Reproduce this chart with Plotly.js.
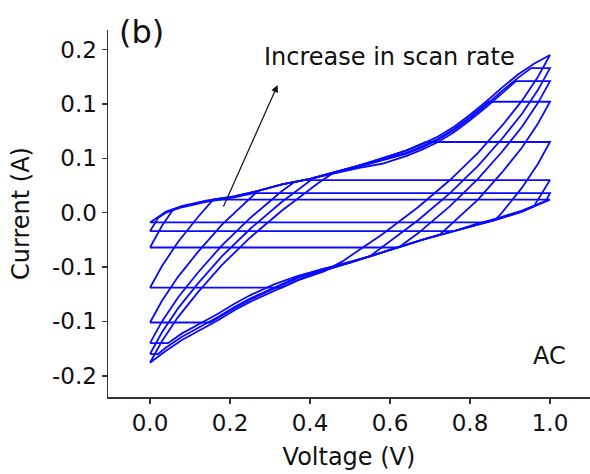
<!DOCTYPE html>
<html>
<head>
<meta charset="utf-8">
<script src="https://cdn.plot.ly/plotly-3.0.1.min.js"></script>
<style>
  html, body { margin: 0; padding: 0; background: #ffffff; }
  #chart { width: 590px; height: 474px; }
</style>
</head>
<body>
<div id="chart"></div>
<script>
// Cyclic voltammograms of the AC electrode: one closed loop per scan rate,
// from the slowest (loop 1) to the fastest (loop 8).
const v1 = [0, 0.04, 0.08, 0.14, 0.16, 1.0, 0.93, 0.87, 0.84, 0];
const i1 = [-0.009, 0.001, 0.006, 0.011, 0.012, 0.012, 0.001, -0.006, -0.009, -0.009];

const v2 = [0, 0.02, 0.04, 0.08, 0.14, 0.21, 0.26, 1.0, 0.99, 0.93, 0.87, 0.81, 0.76, 0];
const i2 = [-0.017, -0.005, 0.000, 0.005, 0.010, 0.014, 0.018, 0.018, 0.011, 0.002, -0.005, -0.011, -0.017, -0.017];

const v3 = [0, 0.03, 0.058, 0.08, 0.14, 0.21, 0.27, 0.33, 0.385, 1.0, 0.96, 0.93, 0.87, 0.81, 0.75, 0.68, 0.62, 0];
const i3 = [-0.032, -0.012, 0.003, 0.006, 0.011, 0.015, 0.020, 0.026, 0.030, 0.030, 0.006, 0.001, -0.006, -0.012, -0.018, -0.025, -0.032, -0.032];

const v4 = [0, 0.03, 0.07, 0.12, 0.158, 0.21, 0.27, 0.33, 0.40, 0.46, 0.52, 0.58, 0.64, 0.69, 1.0,
            0.97, 0.93, 0.88, 0.862, 0.81, 0.75, 0.68, 0.62, 0.56, 0.50, 0.43, 0.37, 0.33, 0];
const i4 = [-0.069, -0.049, -0.027, -0.004, 0.012, 0.015, 0.020, 0.026, 0.031, 0.037, 0.043, 0.050, 0.057, 0.065, 0.065,
            0.045, 0.023, 0.000, -0.007, -0.012, -0.018, -0.025, -0.032, -0.039, -0.046, -0.054, -0.062, -0.069, -0.069];

const v5 = [0, 0.03, 0.07, 0.12, 0.18, 0.27, 0.33, 0.40, 0.46, 0.52, 0.58, 0.64, 0.68, 0.72, 0.76, 0.80, 0.84, 0.847, 1.0,
            0.97, 0.93, 0.88, 0.82, 0.725, 0.68, 0.62, 0.56, 0.50, 0.43, 0.37, 0.31, 0.25, 0.21, 0.17, 0.15, 0];
const i5 = [-0.101, -0.081, -0.059, -0.036, -0.011, 0.020, 0.026, 0.031, 0.037, 0.043, 0.049, 0.055, 0.061, 0.068, 0.077, 0.088, 0.100, 0.102, 0.102,
            0.082, 0.060, 0.037, 0.012, -0.020, -0.025, -0.032, -0.039, -0.046, -0.053, -0.060, -0.070, -0.080, -0.088, -0.097, -0.101, -0.101];

const v6 = [0, 0.03, 0.07, 0.12, 0.18, 0.25, 0.33, 0.36, 0.40, 0.46, 0.52, 0.58, 0.64, 0.68, 0.72, 0.76, 0.80, 0.84, 0.88, 0.915, 1.0,
            0.97, 0.93, 0.88, 0.82, 0.75, 0.67, 0.625, 0.56, 0.50, 0.43, 0.37, 0.31, 0.25, 0.21, 0.17, 0.13, 0.08, 0.045, 0];
const i6 = [-0.120, -0.100, -0.078, -0.055, -0.030, -0.005, 0.020, 0.028, 0.031, 0.036, 0.041, 0.045, 0.052, 0.058, 0.065, 0.074, 0.085, 0.097, 0.110, 0.121, 0.121,
            0.101, 0.079, 0.056, 0.031, 0.006, -0.019, -0.031, -0.039, -0.045, -0.052, -0.058, -0.066, -0.076, -0.084, -0.093, -0.101, -0.111, -0.120, -0.120];

const v7 = [0, 0.03, 0.07, 0.12, 0.18, 0.25, 0.33, 0.41, 0.46, 0.52, 0.58, 0.64, 0.68, 0.72, 0.76, 0.80, 0.84, 0.88, 0.92, 0.953, 1.0,
            0.97, 0.93, 0.88, 0.82, 0.75, 0.67, 0.55, 0.50, 0.43, 0.37, 0.31, 0.25, 0.21, 0.17, 0.13, 0.08, 0.04, 0.02, 0];
const i7 = [-0.130, -0.110, -0.088, -0.065, -0.040, -0.015, 0.010, 0.032, 0.037, 0.042, 0.048, 0.054, 0.060, 0.067, 0.076, 0.087, 0.099, 0.112, 0.124, 0.133, 0.133,
            0.113, 0.091, 0.068, 0.043, 0.018, -0.007, -0.040, -0.046, -0.052, -0.059, -0.069, -0.079, -0.087, -0.096, -0.104, -0.114, -0.124, -0.130, -0.130];

const v8 = [0, 0.03, 0.07, 0.12, 0.18, 0.25, 0.33, 0.42, 0.46, 0.52, 0.58, 0.64, 0.68, 0.72, 0.76, 0.80, 0.84, 0.88, 0.92, 0.96, 1.0,
            0.97, 0.93, 0.88, 0.82, 0.75, 0.67, 0.58, 0.48, 0.435, 0.37, 0.31, 0.25, 0.21, 0.17, 0.13, 0.08, 0.04, 0];
const i8 = [-0.138, -0.118, -0.096, -0.073, -0.048, -0.023, 0.002, 0.027, 0.037, 0.043, 0.050, 0.057, 0.063, 0.070, 0.079, 0.090, 0.102, 0.115, 0.127, 0.137, 0.145,
            0.125, 0.103, 0.080, 0.055, 0.030, 0.005, -0.020, -0.045, -0.054, -0.062, -0.072, -0.082, -0.090, -0.099, -0.107, -0.117, -0.127, -0.138];

// Axis ticks (current labels are printed with one decimal)
const xTickVals = [0, 0.2, 0.4, 0.6, 0.8, 1.0];
const xTickText = ['0.0', '0.2', '0.4', '0.6', '0.8', '1.0'];
const yTickVals = [0.15, 0.10, 0.05, 0, -0.05, -0.10, -0.15];
const yTickText = ['0.2', '0.1', '0.1', '0.0', '-0.1', '-0.1', '-0.2'];

const loops = [[v1, i1], [v2, i2], [v3, i3], [v4, i4], [v5, i5], [v6, i6], [v7, i7], [v8, i8]];

const FONT = 'DejaVu Sans, Verdana, sans-serif';
const LINE_BLUE = '#0a0aff';
const INK = '#111111';

const traces = loops.map(([v, i], k) => ({
  x: v,
  y: i,
  type: 'scatter',
  mode: 'lines',
  name: 'loop ' + (k + 1),
  line: { color: LINE_BLUE, width: 1.8 },
  hoverinfo: 'skip'
}));

const axisStyle = {
  showline: true,
  linecolor: '#333333',
  linewidth: 1.5,
  ticks: 'outside',
  ticklen: 5,
  tickwidth: 1.5,
  tickcolor: '#333333',
  showgrid: false,
  zeroline: false,
  automargin: false,
  tickfont: { family: FONT, size: 23, color: INK }
};

const layout = {
  width: 590,
  height: 474,
  margin: { l: 108, r: 0, t: 30, b: 77 },
  paper_bgcolor: '#ffffff',
  plot_bgcolor: '#ffffff',
  showlegend: false,
  font: { family: FONT, color: INK },
  xaxis: Object.assign({}, axisStyle, {
    range: [-0.105, 1.1],
    tickmode: 'array',
    tickvals: xTickVals,
    ticktext: xTickText,
    title: { text: 'Voltage (V)', font: { family: FONT, size: 24, color: INK }, standoff: 13 }
  }),
  yaxis: Object.assign({}, axisStyle, {
    range: [-0.1695, 0.168],
    tickmode: 'array',
    tickvals: yTickVals,
    ticktext: yTickText,
    title: { text: 'Current (A)', font: { family: FONT, size: 24, color: INK }, standoff: 15 }
  }),
  annotations: [
    {
      xref: 'paper', yref: 'paper', x: 0.0705, y: 0.995,
      xanchor: 'center', yanchor: 'middle', showarrow: false,
      text: '(b)', font: { family: FONT, size: 32, color: INK }
    },
    {
      xref: 'paper', yref: 'paper', x: 0.3195, y: 0.926,
      xanchor: 'left', yanchor: 'middle', showarrow: false,
      text: 'Increase in scan rate', font: { family: FONT, size: 24, color: INK }
    },
    {
      xref: 'paper', yref: 'paper', x: 0.915, y: 0.112,
      xanchor: 'center', yanchor: 'middle', showarrow: false,
      text: 'AC', font: { family: FONT, size: 24, color: INK }
    },
    {
      xref: 'x', yref: 'y', axref: 'x', ayref: 'y',
      x: 0.319, y: 0.1174, ax: 0.182, ay: 0.0043,
      text: '', showarrow: true,
      arrowhead: 2, arrowsize: 1.2, arrowwidth: 1.2, arrowcolor: INK
    }
  ]
};

Plotly.newPlot('chart', traces, layout, { staticPlot: true, displayModeBar: false });
</script>
</body>
</html>
